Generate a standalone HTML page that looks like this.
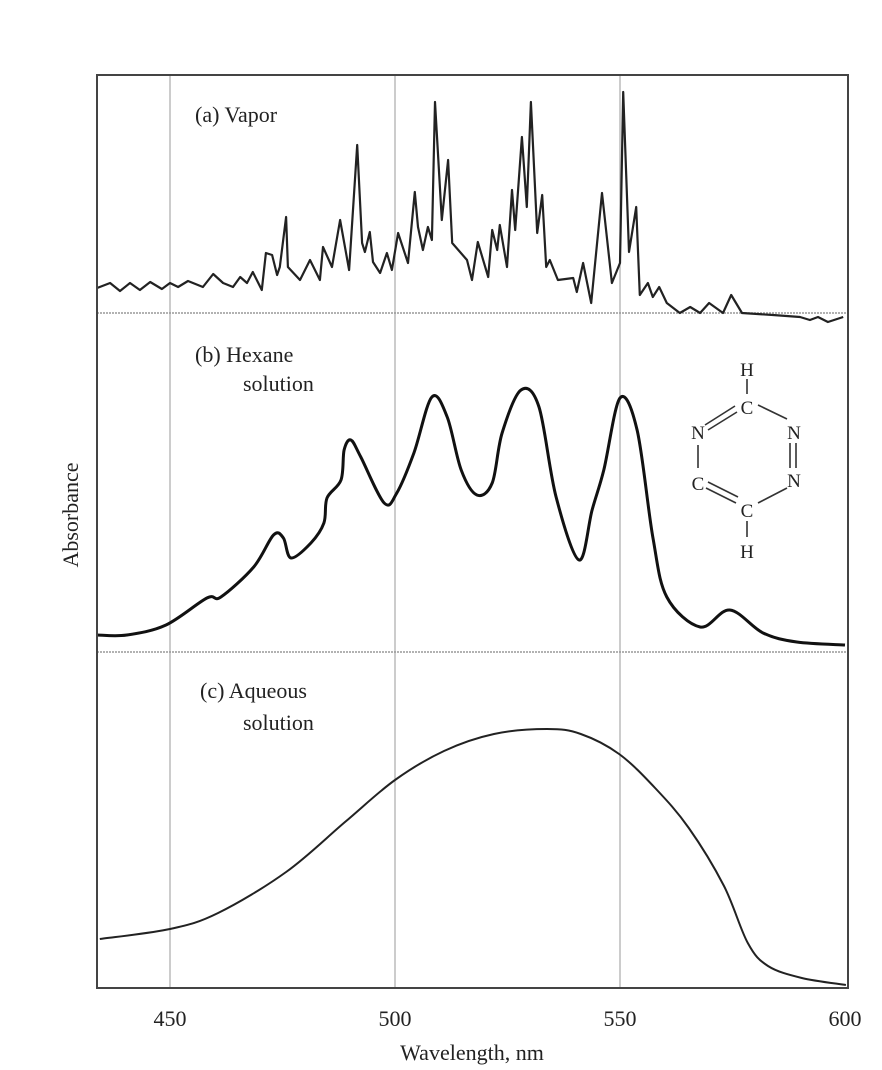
<!DOCTYPE html>
<html><head><meta charset="utf-8"><style>
html,body{margin:0;padding:0;background:#fff;}
svg{display:block;}
text{font-family:"Liberation Serif",serif;fill:#222;}
</style></head><body>
<svg id="chart" width="882" height="1070" viewBox="0 0 882 1070">
<g id="grid"></g>
<g id="series"></g>
<rect x="97" y="75" width="751" height="913" fill="none" stroke="#444" stroke-width="2"/>
<text x="195" y="122" font-size="22">(a) Vapor</text>
<text x="195" y="362" font-size="22">(b) Hexane</text>
<text x="243" y="391" font-size="22">solution</text>
<text x="200" y="698" font-size="22">(c) Aqueous</text>
<text x="243" y="730" font-size="22">solution</text>
<text transform="translate(78,515) rotate(-90)" text-anchor="middle" font-size="22">Absorbance</text>
<text x="472" y="1060" text-anchor="middle" font-size="22">Wavelength, nm</text>
<g id="xticks"></g>
<g font-size="19" text-anchor="middle" stroke-width="1.6">
<text x="747" y="376">H</text>
<text x="747" y="414">C</text>
<text x="698" y="439">N</text>
<text x="794" y="439">N</text>
<text x="698" y="490">C</text>
<text x="794" y="487">N</text>
<text x="747" y="517">C</text>
<text x="747" y="558">H</text>
<g stroke="#333">
<line x1="747" y1="379" x2="747" y2="394"/>
<line x1="705" y1="425" x2="735" y2="406"/><line x1="708" y1="430" x2="737" y2="412"/>
<line x1="758" y1="405" x2="787" y2="419"/>
<line x1="790" y1="443" x2="790" y2="468"/><line x1="796" y1="443" x2="796" y2="468"/>
<line x1="698" y1="445" x2="698" y2="468"/>
<line x1="706" y1="488" x2="736" y2="503"/><line x1="708" y1="482" x2="738" y2="497"/>
<line x1="758" y1="503" x2="787" y2="488"/>
<line x1="747" y1="521" x2="747" y2="537"/>
</g></g>
</svg>
<script>
var ticks=[450,500,550,600];
var gridNm=[450,500,550];
// (a) vapor
var vapNm=[433.8,436.7,438.9,441.1,443.3,445.6,448.2,450,451.8,454,457.3,459.6,461.8,464,465.6,467.1,468.4,470.4,471.3,472.7,473.8,474.4,475.8,476.2,478.9,481.1,483.3,484,486,487.8,489.8,491.6,492.7,493.3,494.4,495.1,496.7,498.2,499.3,500.7,502.9,504.4,505.1,506.2,507.3,508.2,508.9,510.4,511.8,512.7,516,517.1,518.4,520.7,521.6,522.7,523.3,524.9,526,526.7,528.2,529.3,530.2,531.6,532.7,533.6,534.4,536.2,539.6,540.4,541.8,543.6,546,548.2,550,550.7,552,553.6,554.4,556.2,557.3,558.7,560.4,563.3,565.6,567.8,569.8,572.9,574.7,577.1,584,590,592.2,594,596.2,599.6];
var vapAbs=[25,30,22,30,23,31,24,30,26,32,26,39,30,26,36,30,41,23,60,58,38,46,96,46,33,53,33,66,46,93,43,168,70,61,81,51,40,60,43,80,50,121,86,63,86,73,211,93,153,70,53,33,71,36,83,63,88,46,123,83,176,106,211,80,118,46,53,33,35,21,50,10,120,30,50,221,61,106,18,30,16,26,10,0,6,0,10,0,18,0,-2,-4,-7,-4,-9,-4];
// (b) hexane
var hexNm=[433.8,440.4,449.1,458.2,461.3,468.6,473,475.2,476.9,481.3,484.2,484.9,488,488.7,490.2,492.4,497.6,500.4,504.2,508.2,511.6,514.7,518.2,521.6,523.8,528,532,535.8,540.9,543.8,546.4,550,553.8,557.3,560.4,567.8,574.4,581.8,589.3,600];
var hexAbs=[17,17,27,54,55,85,117,114,94,109,129,154,172,202,212,195,149,159,199,255,235,182,157,169,219,262,245,155,92,142,182,254,222,115,55,25,42,19,10,7];
// (c) aqueous
var aqNm=[434.4,450,460.7,475.8,488.9,500,510.9,522,533.8,541.3,549.8,557.8,565.3,573.1,578.4,582.9,590.4,600.2];
var aqAbs=[49,59,75,116,166,208,237,254,259,254,234,200,160,102,45,22,10,3];

var NS='http://www.w3.org/2000/svg';
function xS(nm){return 170+(nm-450)*4.5;}
function yA(v){return 313-v;}
function yB(v){return 652-v;}
function yC(v){return 988-v;}
function mk(tag,attrs,parent){var e=document.createElementNS(NS,tag);for(var k in attrs)e.setAttribute(k,attrs[k]);parent.appendChild(e);return e;}
function smooth(pts){var d='M'+pts[0][0].toFixed(1)+','+pts[0][1].toFixed(1);
 for(var i=0;i<pts.length-1;i++){var p0=pts[i-1]||pts[i],p1=pts[i],p2=pts[i+1],p3=pts[i+2]||p2;
  var c1x=p1[0]+(p2[0]-p0[0])/6,c1y=p1[1]+(p2[1]-p0[1])/6,c2x=p2[0]-(p3[0]-p1[0])/6,c2y=p2[1]-(p3[1]-p1[1])/6;
  d+=' C'+c1x.toFixed(1)+','+c1y.toFixed(1)+' '+c2x.toFixed(1)+','+c2y.toFixed(1)+' '+p2[0].toFixed(1)+','+p2[1].toFixed(1);}
 return d;}
var grid=document.getElementById('grid');
gridNm.forEach(function(n){
 var l=mk('line',{x1:xS(n),x2:xS(n),y1:75,y2:988,stroke:'#aaa','stroke-width':1.2},grid);
 
 
});
[313,652].forEach(function(y,i){
 var l=mk('line',{x1:97,x2:848,y1:y,y2:y,stroke:'#999','stroke-width':1.5,'stroke-dasharray':'2 1'},grid);
 
 
});
var xt=document.getElementById('xticks');
ticks.forEach(function(t){
 var e=mk('text',{x:xS(t),y:1026,'text-anchor':'middle','font-size':22},xt);
 e.textContent=t;
 
 
});
var s=document.getElementById('series');
var dA='M'+vapNm.map(function(n,i){return xS(n).toFixed(1)+','+yA(vapAbs[i]).toFixed(1);}).join(' L');
var pA=mk('path',{d:dA,fill:'none',stroke:'#222','stroke-width':2.2,'stroke-linejoin':'round'},s);


var pB=mk('path',{d:smooth(hexNm.map(function(n,i){return [xS(n),yB(hexAbs[i])];})),fill:'none',stroke:'#111','stroke-width':3},s);


var pC=mk('path',{d:smooth(aqNm.map(function(n,i){return [xS(n),yC(aqAbs[i])];})),fill:'none',stroke:'#222','stroke-width':2},s);


</script>
</body></html>
